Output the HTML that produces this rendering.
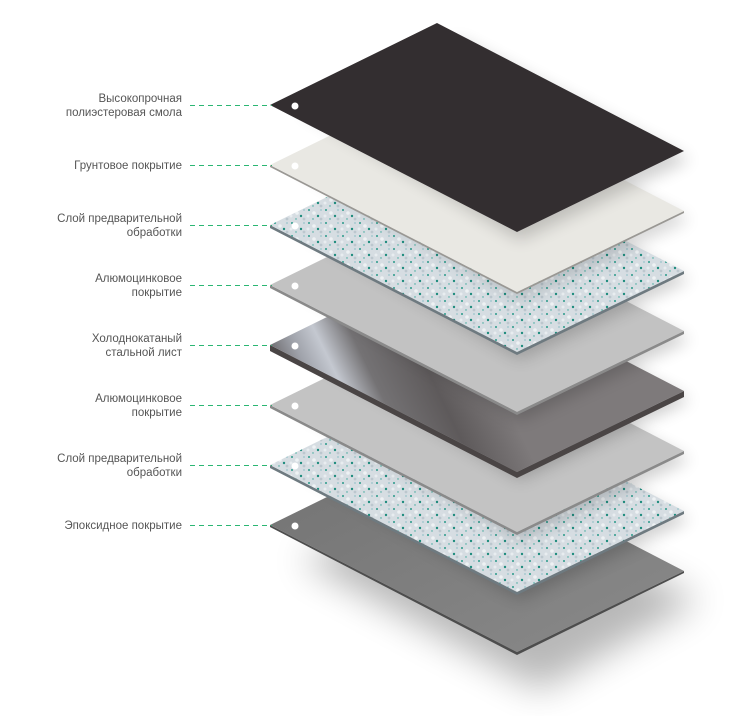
<!DOCTYPE html>
<html><head><meta charset="utf-8"><style>
html,body{margin:0;padding:0;background:#fff;width:734px;height:716px;overflow:hidden}
svg{display:block}
text{font-family:"Liberation Sans",sans-serif;font-size:11.5px;fill:#555}
</style></head><body>
<svg width="734" height="716" viewBox="0 0 734 716" xmlns="http://www.w3.org/2000/svg">
<defs>
<filter id="blur" x="-30%" y="-30%" width="160%" height="160%"><feGaussianBlur stdDeviation="18"/></filter>
<filter id="blur2" x="-30%" y="-30%" width="160%" height="160%"><feGaussianBlur stdDeviation="8"/></filter>
<pattern id="speck" width="17" height="13" patternUnits="userSpaceOnUse">
<rect width="17" height="13" fill="#d6dde2"/>
<circle cx="3" cy="2" r="1" fill="#2a9a8a"/>
<circle cx="12" cy="8" r="1.2" fill="#1f8c7e"/>
<circle cx="7" cy="11" r="0.7" fill="#3aa89a"/>
<circle cx="15" cy="2" r="0.6" fill="#5aa8b0"/>
<circle cx="8" cy="5" r="1.8" fill="#eef2f4"/>
<circle cx="2" cy="8" r="1.5" fill="#e8edf0"/>
<circle cx="15" cy="11" r="1.4" fill="#bcc7ce"/>
</pattern>
<linearGradient id="steel" gradientUnits="userSpaceOnUse" x1="270" y1="345" x2="437" y2="263">
<stop offset="0" stop-color="#727074"/>
<stop offset="0.12" stop-color="#9fa2aa"/>
<stop offset="0.25" stop-color="#c4c8d0"/>
<stop offset="0.42" stop-color="#747274"/>
<stop offset="0.7" stop-color="#5e5a5b"/>
<stop offset="1" stop-color="#7e7a7b"/>
</linearGradient>
<linearGradient id="gray7" x1="0" y1="0" x2="1" y2="1">
<stop offset="0" stop-color="#727272"/><stop offset="1" stop-color="#8a8a8a"/>
</linearGradient>
</defs>

<polygon points="300,560 470,490 700,600 540,690" fill="#000" opacity="0.28" filter="url(#blur)"/>

<polygon points="270,525 517,652 684,571 684,573 517,655 270,527" fill="#4d4d4d"/>
<polygon points="270,525 437,443 684,571 517,652" fill="url(#gray7)"/>
<polygon points="300,470 460,400 690,520 520,600" fill="#000" opacity="0.18" filter="url(#blur2)"/>
<polygon points="270,465 517,592 684,511 684,514 517,595 270,468" fill="#6e7a80"/>
<polygon points="270,465 437,383 684,511 517,592" fill="url(#speck)"/>
<polygon points="300,410 460,340 690,460 520,540" fill="#000" opacity="0.18" filter="url(#blur2)"/>
<polygon points="270,405 517,532 684,451 684,454 517,535 270,408" fill="#8a8a8a"/>
<polygon points="270,405 437,323 684,451 517,532" fill="#c3c3c3"/>
<polygon points="300,350 460,280 690,400 520,480" fill="#000" opacity="0.2" filter="url(#blur2)"/>
<polygon points="270,345 517,472 684,391 684,397 517,478 270,351" fill="#4a4545"/>
<polygon points="270,345 437,263 684,391 517,472" fill="url(#steel)"/>
<polygon points="300,290 460,220 690,340 520,420" fill="#000" opacity="0.18" filter="url(#blur2)"/>
<polygon points="270,285 517,412 684,331 684,334 517,415 270,288" fill="#8a8a8a"/>
<polygon points="270,285 437,203 684,331 517,412" fill="#c2c2c2"/>
<polygon points="300,230 460,160 690,280 520,360" fill="#000" opacity="0.18" filter="url(#blur2)"/>
<polygon points="270,225 517,352 684,271 684,274 517,355 270,228" fill="#6e7a80"/>
<polygon points="270,225 437,143 684,271 517,352" fill="url(#speck)"/>
<polygon points="300,170 460,100 690,220 520,300" fill="#000" opacity="0.15" filter="url(#blur2)"/>
<polygon points="270,165 517,292 684,211 684,213 517,294 270,167" fill="#9a9894"/>
<polygon points="270,165 437,83 684,211 517,292" fill="#e9e8e3"/>
<polygon points="300,110 460,40 690,160 520,240" fill="#000" opacity="0.18" filter="url(#blur2)"/>
<polygon points="270,105 437,23 684,151 517,232" fill="#332e30"/>

<g fill="#fff">
<circle cx="295" cy="106" r="3.5"/><circle cx="295" cy="166" r="3.5"/><circle cx="295" cy="226" r="3.5"/><circle cx="295" cy="286" r="3.5"/>
<circle cx="295" cy="346" r="3.5"/><circle cx="295" cy="406" r="3.5"/><circle cx="295" cy="466" r="3.5"/><circle cx="295" cy="526" r="3.5"/>
</g>
<g stroke="#2bb673" stroke-width="1" stroke-dasharray="5,4">
<line x1="190" y1="105.5" x2="272" y2="105.5"/><line x1="190" y1="165.5" x2="272" y2="165.5"/>
<line x1="190" y1="225.5" x2="272" y2="225.5"/><line x1="190" y1="285.5" x2="272" y2="285.5"/>
<line x1="190" y1="345.5" x2="272" y2="345.5"/><line x1="190" y1="405.5" x2="272" y2="405.5"/>
<line x1="190" y1="465.5" x2="272" y2="465.5"/><line x1="190" y1="525.5" x2="272" y2="525.5"/>
</g>
<g text-anchor="end">
<text x="182" y="102">Высокопрочная</text><text x="182" y="116">полиэстеровая смола</text>
<text x="182" y="169">Грунтовое покрытие</text>
<text x="182" y="222">Слой предварительной</text><text x="182" y="236">обработки</text>
<text x="182" y="282">Алюмоцинковое</text><text x="182" y="296">покрытие</text>
<text x="182" y="342">Холоднокатаный</text><text x="182" y="356">стальной лист</text>
<text x="182" y="402">Алюмоцинковое</text><text x="182" y="416">покрытие</text>
<text x="182" y="462">Слой предварительной</text><text x="182" y="476">обработки</text>
<text x="182" y="529">Эпоксидное покрытие</text>
</g>
</svg>
</body></html>
